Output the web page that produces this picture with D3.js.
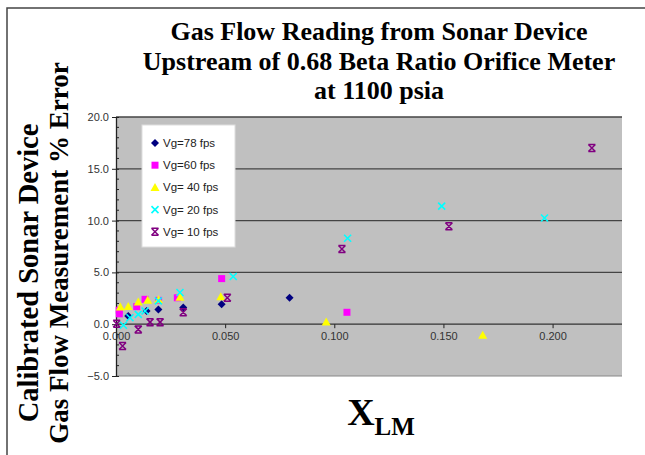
<!DOCTYPE html>
<meta charset="utf-8">
<script src="https://d3js.org/d3.v7.min.js"></script>
<style>
  body { margin: 0; background: #fff; }
</style>
<div id="vis"></div>
<script type="text/javascript">

// series: [X_LM, % error]
var vg78 = [[0.0056,0.78],[0.014,1.27],[0.0194,1.43],[0.0308,1.6],[0.0484,1.92],[0.0795,2.55]];
var vg60 = [[0.0015,1.0],[0.0015,1.35],[0.0095,1.69],[0.0133,2.4],[0.0195,2.3],[0.0281,2.55],[0.0484,4.4],[0.1058,1.15]];
var vg40 = [[0.002,1.65],[0.0056,1.72],[0.0102,2.15],[0.0145,2.3],[0.0195,2.35],[0.0293,2.6],[0.048,2.64],[0.0963,0.22],[0.168,-1.07]];
var vg20 = [[0.0034,-0.1],[0.0064,0.62],[0.0102,0.95],[0.0133,1.27],[0.0194,2.25],[0.0293,3.06],[0.0537,4.6],[0.1061,8.3],[0.1492,11.4],[0.1963,10.25]];
var vg10 = [[0.0003,0.05],[0.003,-2.1],[0.0102,-0.5],[0.0156,0.2],[0.0202,0.2],[0.0308,1.15],[0.051,2.55],[0.1035,7.25],[0.1525,9.45],[0.218,17.0]];

var seriesNames = ["Vg=78 fps", "Vg=60 fps", "Vg= 40 fps", "Vg= 20 fps", "Vg= 10 fps"];
var seriesData = [vg78, vg60, vg40, vg20, vg10];
var xTicks = [0, 0.05, 0.1, 0.15, 0.2];
var yTicks = [-5, 0, 5, 10, 15, 20];

var W = 645, H = 455;
var plot = {left: 116, right: 622, top: 117, bottom: 376};
var serif = "Liberation Serif, Times New Roman, serif";
var sans = "Liberation Sans, Arial, sans-serif";

var svg = d3.select("#vis")
  .append("svg")
    .attr("width", W)
    .attr("height", H);

// frame (only top and left edges are visible)
svg.append("path")
  .attr("d", "M7,455 L7,8 L645,8")
  .attr("fill", "none")
  .attr("stroke", "#444")
  .attr("stroke-width", 1.5);

var x = d3.scaleLinear().domain([0, 0.2318]).range([plot.left, plot.right]);
var y = d3.scaleLinear().domain([-5, 20]).range([plot.bottom, plot.top]);

// plot area
svg.append("rect")
  .attr("x", plot.left)
  .attr("y", plot.top)
  .attr("width", plot.right - plot.left)
  .attr("height", plot.bottom - plot.top)
  .attr("fill", "#c0c0c0");

svg.append("line")
  .attr("x1", plot.left).attr("x2", plot.right)
  .attr("y1", plot.bottom).attr("y2", plot.bottom)
  .attr("stroke", "#888").attr("stroke-width", 1);

// gridlines
svg.append("g").selectAll("line").data(yTicks.filter(d => d > -5))
  .enter().append("line")
    .attr("x1", plot.left)
    .attr("x2", plot.right)
    .attr("y1", d => y(d))
    .attr("y2", d => y(d))
    .attr("stroke", d => d === 0 ? "#333" : "#444")
    .attr("stroke-width", 1.3);

// y axis
var yAxis = svg.append("g")
  .attr("transform", "translate(" + plot.left + ",0)")
  .call(d3.axisLeft(y).tickValues(yTicks).tickFormat(d3.format(".1f")).tickSizeInner(4).tickSizeOuter(0));
yAxis.select(".domain").attr("stroke", "#222").attr("stroke-width", 1.3);
yAxis.selectAll(".tick line").attr("stroke", "#222").attr("x2", -4).attr("x1", 3);
yAxis.selectAll("text")
  .attr("x", -7)
  .style("font-family", sans)
  .style("font-size", "11px")
  .attr("fill", "#333");

// y minor ticks
svg.append("g").selectAll("line").data(d3.range(-5, 20, 1).filter(d => d % 5 !== 0))
  .enter().append("line")
    .attr("x1", plot.left)
    .attr("x2", plot.left + 3)
    .attr("y1", d => y(d))
    .attr("y2", d => y(d))
    .attr("stroke", "#222");

// x axis sitting on y = 0
var xAxis = svg.append("g")
  .attr("transform", "translate(0," + y(0) + ")")
  .call(d3.axisBottom(x).tickValues(xTicks).tickFormat(d3.format(".3f")).tickSizeInner(4).tickSizeOuter(0));
xAxis.select(".domain").remove();
xAxis.selectAll(".tick line").attr("stroke", "#222");
xAxis.selectAll("text")
  .attr("y", 8)
  .style("font-family", sans)
  .style("font-size", "11px")
  .attr("fill", "#333");

// marker shapes
function drawMarker(g, i) {
  if (i === 0) {
    g.append("path").attr("d", "M0,-4 L4,0 L0,4 L-4,0 Z").attr("fill", "#000080");
  } else if (i === 1) {
    g.append("rect").attr("x", -3.5).attr("y", -3.5).attr("width", 7).attr("height", 7).attr("fill", "#ff00ff");
  } else if (i === 2) {
    g.append("path").attr("d", "M0,-4.5 L4.5,3.5 L-4.5,3.5 Z").attr("fill", "#ffff00");
  } else if (i === 3) {
    g.append("path").attr("d", "M-3.5,-3.5 L3.5,3.5 M-3.5,3.5 L3.5,-3.5")
      .attr("stroke", "#00ffff").attr("stroke-width", 1.6).attr("fill", "none");
  } else {
    g.append("path").attr("d", "M-3.5,-3.5 L3.5,3.5 M-3.5,3.5 L3.5,-3.5 M-3.5,-3.5 L3.5,-3.5 M-3.5,3.5 L3.5,3.5")
      .attr("stroke", "#800080").attr("stroke-width", 1.5).attr("fill", "none");
  }
}

seriesData.forEach((data, i) => {
  svg.append("g").selectAll("g").data(data)
    .enter().append("g")
      .attr("transform", d => "translate(" + x(d[0]) + "," + y(d[1]) + ")")
      .each(function() { drawMarker(d3.select(this), i); });
});

// legend
var legend = svg.append("g").attr("transform", "translate(142,125)");
legend.append("rect")
  .attr("width", 93)
  .attr("height", 122)
  .attr("fill", "#fff")
  .attr("stroke", "#ddd");
seriesNames.forEach((name, i) => {
  var row = legend.append("g").attr("transform", "translate(13," + (18 + i * 22.2) + ")");
  drawMarker(row, i);
  row.append("text")
    .attr("x", 8)
    .attr("y", 4)
    .style("font-family", sans)
    .style("font-size", "11.5px")
    .attr("fill", "#222")
    .text(name);
});

// titles
var title = ["Gas Flow Reading from Sonar Device", "Upstream of 0.68 Beta Ratio Orifice Meter", "at 1100 psia"];
svg.append("g").selectAll("text").data(title)
  .enter().append("text")
    .attr("x", 379)
    .attr("y", (d, i) => 40 + i * 29.5)
    .attr("text-anchor", "middle")
    .style("font-family", serif)
    .style("font-weight", "bold")
    .style("font-size", "26px")
    .attr("fill", "#000")
    .text(d => d);

svg.append("text")
  .attr("transform", "translate(38,273) rotate(-90)")
  .attr("text-anchor", "middle")
  .style("font-family", serif)
  .style("font-weight", "bold")
  .style("font-size", "28.5px")
  .text("Calibrated Sonar Device");

svg.append("text")
  .attr("transform", "translate(68,253) rotate(-90)")
  .attr("text-anchor", "middle")
  .style("font-family", serif)
  .style("font-weight", "bold")
  .style("font-size", "27px")
  .text("Gas Flow Measurement % Error");

var xl = svg.append("text")
  .attr("x", 381)
  .attr("y", 425)
  .attr("text-anchor", "middle")
  .style("font-family", serif)
  .style("font-weight", "bold");
xl.append("tspan").style("font-size", "38px").text("X");
xl.append("tspan").attr("dy", 10).style("font-size", "25px").text("LM");

</script>
